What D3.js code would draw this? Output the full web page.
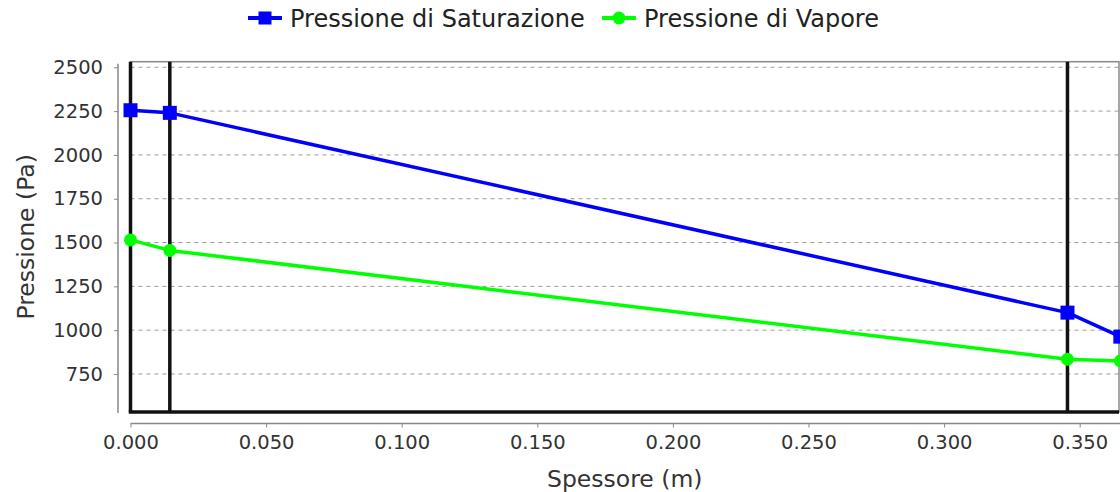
<!DOCTYPE html>
<html>
<head>
<meta charset="utf-8">
<script src="https://cdn.jsdelivr.net/npm/d3@7"></script>
<style>
  html, body { margin: 0; padding: 0; background: #fff; }
  svg { display: block; font-family: "DejaVu Sans", sans-serif; }
</style>
</head>
<body>
<svg id="chart" width="1120" height="492"></svg>
<script>
// ---- data ----
const spessore = [0, 0.0145, 0.3455, 0.365];
const pressioneSaturazione = [2255, 2240, 1100, 963];
const pressioneVapore = [1515, 1455, 834, 824];
const layerBoundaries = [0, 0.0145, 0.3455];
const xTicks = [0, 0.05, 0.1, 0.15, 0.2, 0.25, 0.3, 0.35];
const yTicks = [750, 1000, 1250, 1500, 1750, 2000, 2250, 2500];
const seriesNames = ["Pressione di Saturazione", "Pressione di Vapore"];
const seriesColors = ["#0000ff", "#00ff00"];
const xTitle = "Spessore (m)";
const yTitle = "Pressione (Pa)";
const xDomain = [0, 0.3645];
const yDomain = [533, 2532];

// ---- layout ----
const plot = { left: 130.5, right: 1119, top: 61.7, bottom: 412 };
const svg = d3.select("#chart");

const x = d3.scaleLinear().domain(xDomain).range([plot.left, plot.right]);
const y = d3.scaleLinear().domain(yDomain).range([plot.bottom, plot.top]);

// plot background + outline
svg.append("rect")
  .attr("x", plot.left).attr("y", plot.top)
  .attr("width", plot.right - plot.left).attr("height", plot.bottom - plot.top)
  .attr("fill", "#fff").attr("stroke", "#8a8a8a").attr("stroke-width", 1.5);

// horizontal dashed gridlines
svg.append("g").selectAll("line").data(yTicks).join("line")
  .attr("x1", plot.left).attr("x2", plot.right)
  .attr("y1", d => y(d)).attr("y2", d => y(d))
  .attr("stroke", "#9a9a9a").attr("stroke-width", 1)
  .attr("stroke-dasharray", "4,4");

// layer boundary markers
svg.append("g").selectAll("line").data(layerBoundaries).join("line")
  .attr("x1", d => x(d)).attr("x2", d => x(d))
  .attr("y1", plot.top).attr("y2", plot.bottom)
  .attr("stroke", "#111").attr("stroke-width", 3.5);

// bottom thick line
svg.append("line")
  .attr("x1", x(xDomain[0]) - 1.75).attr("x2", plot.right)
  .attr("y1", plot.bottom).attr("y2", plot.bottom)
  .attr("stroke", "#111").attr("stroke-width", 3.5);

// series
const series = [pressioneSaturazione, pressioneVapore];
const line = d3.line().x((d, i) => x(spessore[i])).y(d => y(d));
series.forEach((vals, si) => {
  svg.append("path").datum(vals)
    .attr("d", line).attr("fill", "none")
    .attr("stroke", seriesColors[si]).attr("stroke-width", 3.5)
    .attr("stroke-linejoin", "round");
  const g = svg.append("g");
  if (si === 0) {
    g.selectAll("rect").data(vals).join("rect")
      .attr("x", (d, i) => x(spessore[i]) - 7).attr("y", d => y(d) - 7)
      .attr("width", 14).attr("height", 14).attr("fill", seriesColors[si]);
  } else {
    g.selectAll("circle").data(vals).join("circle")
      .attr("cx", (d, i) => x(spessore[i])).attr("cy", d => y(d))
      .attr("r", 6.5).attr("fill", seriesColors[si]);
  }
});

// axes
const axisColor = "#888";
const xAxis = d3.axisBottom(x).tickValues(xTicks).tickFormat(d3.format(".3f"))
  .tickSizeInner(4).tickSizeOuter(0).tickPadding(8);
const gx = svg.append("g").attr("transform", `translate(0,423.5)`).call(xAxis);
gx.select(".domain").attr("stroke", axisColor).attr("stroke-width", 1.5)
  .attr("d", `M${plot.left},0H1120`);
gx.selectAll(".tick line").attr("stroke", axisColor);
gx.selectAll("text").attr("font-size", 19.5).attr("fill", "#333")
  .attr("font-family", "DejaVu Sans");

const yAxis = d3.axisLeft(y).tickValues(yTicks).tickFormat(d3.format("d"))
  .tickSizeInner(4).tickSizeOuter(0).tickPadding(11);
const gy = svg.append("g").attr("transform", `translate(118,0)`).call(yAxis);
gy.select(".domain").attr("stroke", axisColor).attr("stroke-width", 1.5)
  .attr("d", `M0,${plot.top + 2}V${plot.bottom + 1}`);
gy.selectAll(".tick line").attr("stroke", axisColor);
gy.selectAll("text").attr("font-size", 19.5).attr("fill", "#333")
  .attr("font-family", "DejaVu Sans");

// axis titles
svg.append("text").attr("x", (plot.left + plot.right) / 2).attr("y", 487)
  .attr("text-anchor", "middle").attr("font-size", 23.5).attr("fill", "#333")
  .text(xTitle);
svg.append("text")
  .attr("transform", `translate(34,${(plot.top + plot.bottom) / 2}) rotate(-90)`)
  .attr("text-anchor", "middle").attr("font-size", 23.5).attr("fill", "#333")
  .text(yTitle);

// legend
const legendItems = [
  { name: seriesNames[0], color: seriesColors[0], shape: "square", x0: 248 },
  { name: seriesNames[1], color: seriesColors[1], shape: "circle", x0: 602 }
];
const lg = svg.append("g");
legendItems.forEach(it => {
  lg.append("line").attr("x1", it.x0).attr("x2", it.x0 + 34)
    .attr("y1", 18).attr("y2", 18)
    .attr("stroke", it.color).attr("stroke-width", 4);
  if (it.shape === "square") {
    lg.append("rect").attr("x", it.x0 + 17 - 6.5).attr("y", 18 - 6.5)
      .attr("width", 13).attr("height", 13).attr("fill", it.color);
  } else {
    lg.append("circle").attr("cx", it.x0 + 17).attr("cy", 18).attr("r", 6.5)
      .attr("fill", it.color);
  }
  lg.append("text").attr("x", it.x0 + 42).attr("y", 27)
    .attr("font-size", 24).attr("fill", "#222").text(it.name);
});
</script>
</body>
</html>
